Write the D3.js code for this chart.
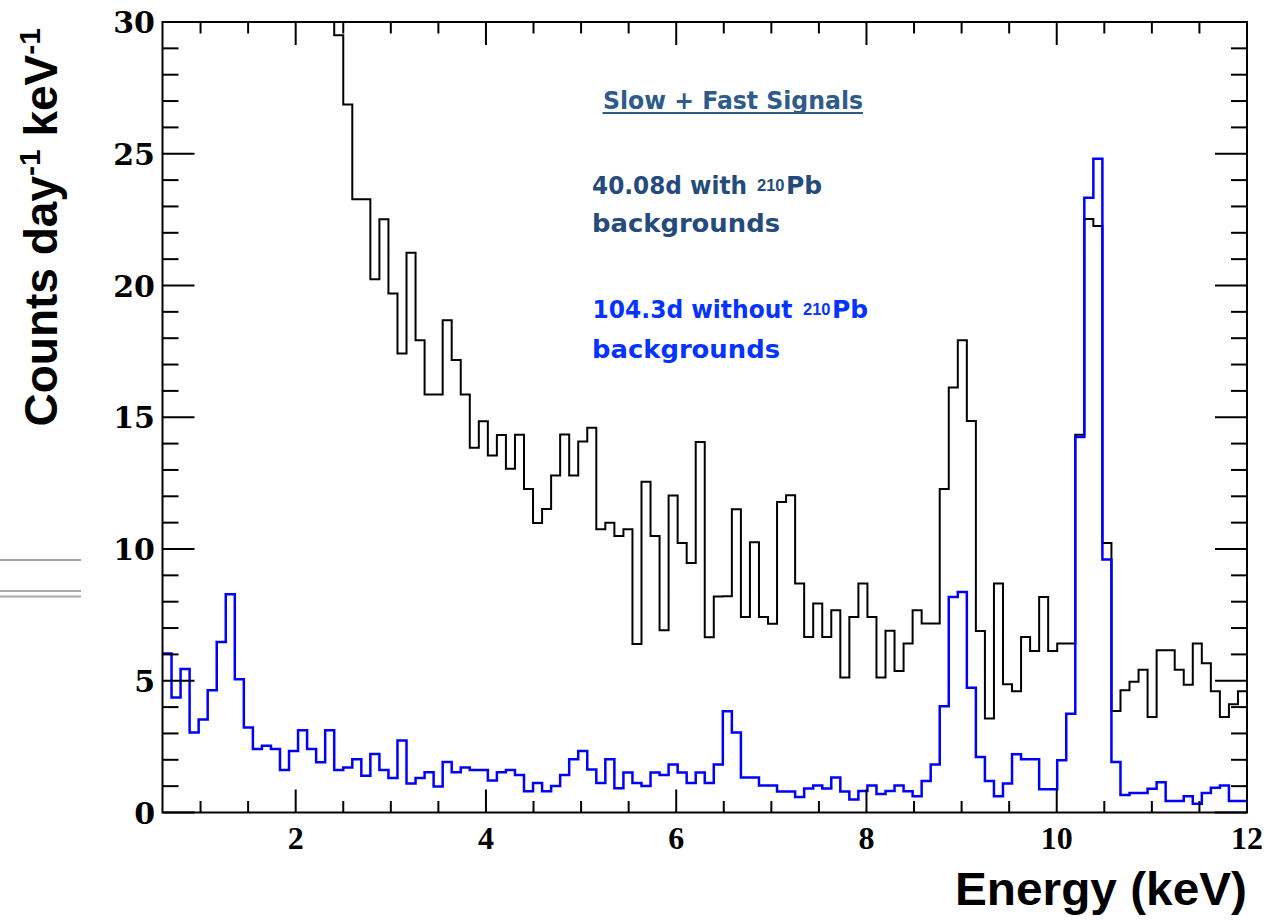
<!DOCTYPE html>
<html><head><meta charset="utf-8">
<script src="https://cdn.jsdelivr.net/npm/d3@7"></script>
<style>html,body{margin:0;padding:0;background:#fff;} svg{display:block}</style>
</head><body><svg id="c" width="1278" height="923"></svg>
<script>
// ---- data ----
const energyMin = 0.6, energyMax = 12, binWidth = 0.095; // 120 bins
// 40.08 d with 210Pb backgrounds (first bins run off the top of the frame)
const withPb = [
  95, 88, 80, 74, 69, 64, 60, 56, 52, 49, 46, 44, 42, 40, 38, 36, 35, 33, 31.5, 29.5,
  26.87, 23.27, 23.27, 20.24, 22.51, 19.7, 17.42, 21.24, 17.92, 15.86,
  15.86, 18.68, 17.17, 15.86, 13.84, 14.85, 13.55, 14.33, 13.05, 14.34,
  12.28, 10.99, 11.52, 12.79, 14.35, 12.79, 14.08, 14.6, 10.75, 11.0,
  10.49, 10.75, 6.39, 12.55, 10.49, 6.92, 12.03, 10.23, 9.47, 14.06,
  6.65, 8.2, 8.21, 11.51, 7.42, 10.26, 7.42, 7.16, 11.78, 12.04,
  8.69, 6.66, 7.93, 6.66, 7.68, 5.12, 7.42, 8.69, 7.42, 5.12,
  6.9, 5.37, 6.41, 7.68, 7.17, 7.17, 12.28, 16.13, 17.92, 14.86,
  6.89, 3.57, 8.69, 4.87, 4.6, 6.66, 6.13, 8.18, 6.13, 6.41,
  6.41, 14.34, 22.52, 22.26, 10.23, 3.85, 4.64, 4.96, 5.42, 3.62,
  6.16, 6.16, 5.42, 4.85, 6.41, 5.66, 4.6, 3.62, 4.11, 4.6
];
// 104.3 d without 210Pb backgrounds
const withoutPb = [
  6.03, 4.36, 5.45, 3.04, 3.53, 4.64, 6.47, 8.28, 5.06, 3.23,
  2.41, 2.53, 2.41, 1.61, 2.33, 3.12, 2.41, 1.91, 3.12, 1.61,
  1.71, 2.02, 1.39, 2.22, 1.61, 1.31, 2.73, 1.10, 1.31, 1.53,
  0.99, 1.92, 1.53, 1.71, 1.61, 1.61, 1.21, 1.53, 1.61, 1.42,
  0.81, 1.12, 0.81, 1.01, 1.42, 2.02, 2.33, 1.63, 1.12, 2.02,
  0.92, 1.52, 1.12, 1.01, 1.52, 1.42, 1.82, 1.52, 1.12, 1.52,
  1.12, 1.82, 3.84, 3.04, 1.33, 1.33, 1.02, 1.02, 0.80, 0.80,
  0.59, 0.91, 1.02, 0.91, 1.33, 0.80, 0.49, 0.82, 1.02, 0.70,
  0.82, 1.02, 0.81, 0.62, 1.20, 1.82, 4.03, 8.18, 8.37, 4.73,
  2.11, 1.20, 0.62, 1.10, 2.21, 2.02, 2.02, 0.88, 0.88, 1.98,
  3.75, 14.25, 23.33, 24.81, 9.60, 1.92, 0.66, 0.74, 0.74, 0.90,
  1.15, 0.44, 0.44, 0.62, 0.33, 0.74, 0.94, 1.02, 0.44, 0.44
];
const xMajorTicks = [2, 4, 6, 8, 10, 12];
const xMinorTicks = [1, 1.5, 2.5, 3, 3.5, 4.5, 5, 5.5, 6.5, 7, 7.5, 8.5, 9, 9.5, 10.5, 11, 11.5];
const yMajorTicks = [0, 5, 10, 15, 20, 25, 30];
const yMinorTicks = d3.range(0, 31).filter(v => v % 5 !== 0);

// ---- layout ----
const L = 162.5, R = 1247, T = 22, B = 812.5;
const svg = d3.select('#c');
const x = d3.scaleLinear().domain([energyMin, energyMax]).range([L, R]);
const y = d3.scaleLinear().domain([0, 30]).range([B, T]);

svg.append('defs').append('clipPath').attr('id', 'clip')
  .append('rect').attr('x', L).attr('y', T).attr('width', R - L).attr('height', B - T);

// decoration lines at left
svg.append('line').attr('x1', 0).attr('x2', 81).attr('y1', 560).attr('y2', 560).attr('stroke', '#444').attr('stroke-width', 1.2);
svg.append('line').attr('x1', 0).attr('x2', 81).attr('y1', 591).attr('y2', 591).attr('stroke', '#555').attr('stroke-width', 1.2);
svg.append('line').attr('x1', 0).attr('x2', 81).attr('y1', 596.5).attr('y2', 596.5).attr('stroke', '#aaa').attr('stroke-width', 2);

// histograms
function histPoints(vals) {
  const pts = vals.map((v, i) => [energyMin + i * binWidth, v]);
  pts.push([energyMax, vals[vals.length - 1]]);
  return pts;
}
const line = d3.line().x(d => x(d[0])).y(d => y(d[1])).curve(d3.curveStepAfter);
const g = svg.append('g').attr('clip-path', 'url(#clip)');
g.append('path').attr('d', line(histPoints(withPb))).attr('fill', 'none').attr('stroke', '#000').attr('stroke-width', 2);
g.append('path').attr('d', line(histPoints(withoutPb))).attr('fill', 'none').attr('stroke', '#0000ff').attr('stroke-width', 2.5);

// frame + ticks
const ax = svg.append('g').attr('stroke', '#000').attr('stroke-width', 2);
ax.append('rect').attr('x', L).attr('y', T).attr('width', R - L).attr('height', B - T).attr('fill', 'none');
function xt(vals, len) {
  vals.forEach(v => {
    ax.append('line').attr('x1', x(v)).attr('x2', x(v)).attr('y1', B).attr('y2', B - len);
    ax.append('line').attr('x1', x(v)).attr('x2', x(v)).attr('y1', T).attr('y2', T + len);
  });
}
function yt(vals, len) {
  vals.forEach(v => {
    ax.append('line').attr('x1', L).attr('x2', L + len).attr('y1', y(v)).attr('y2', y(v));
    ax.append('line').attr('x1', R).attr('x2', R - len).attr('y1', y(v)).attr('y2', y(v));
  });
}
xt(xMajorTicks, 23); xt(xMinorTicks, 11.5);
yt(yMajorTicks, 32); yt(yMinorTicks, 16);

// tick labels
const xTickFont = '"Liberation Serif", "Times New Roman", serif';
const yTickFont = '"DejaVu Serif", "Century Schoolbook", serif';
svg.append('g').selectAll('text').data(xMajorTicks).join('text')
  .attr('x', d => x(d)).attr('y', 849).attr('text-anchor', 'middle')
  .attr('font-family', xTickFont).attr('font-weight', 'bold').attr('font-size', 32)
  .text(d => d);
svg.append('g').selectAll('text').data(yMajorTicks).join('text')
  .attr('x', 155).attr('y', d => y(d) + 11).attr('text-anchor', 'end')
  .attr('font-family', yTickFont).attr('font-weight', 'bold').attr('font-size', 30)
  .text(d => d);

// axis titles
const titleFont = '"Liberation Sans", Arial, Helvetica, sans-serif';
svg.append('text').attr('x', 1247).attr('y', 905).attr('text-anchor', 'end')
  .attr('font-family', titleFont).attr('font-weight', 'bold').attr('font-size', 46)
  .attr('textLength', 292).attr('lengthAdjust', 'spacingAndGlyphs')
  .text('Energy (keV)');
const yt1 = svg.append('text').attr('transform', 'translate(57,28) rotate(-90)').attr('text-anchor', 'end')
  .attr('font-family', titleFont).attr('font-weight', 'bold').attr('font-size', 46);
yt1.append('tspan').text('Counts day');
yt1.append('tspan').attr('font-size', 30).attr('dy', -17).text('-1');
yt1.append('tspan').attr('dy', 17).text(' keV');
yt1.append('tspan').attr('font-size', 30).attr('dy', -17).text('-1');

// legend texts
const legFont = '"DejaVu Sans", Verdana, sans-serif';
const supFont = '"Liberation Sans", Arial, sans-serif';
svg.append('text').attr('x', 603).attr('y', 108.5)
  .attr('font-family', legFont).attr('font-weight', 'bold').attr('font-size', 24)
  .attr('fill', '#2e5b8a').attr('textLength', 260).attr('lengthAdjust', 'spacingAndGlyphs')
  .text('Slow + Fast Signals');
svg.append('line').attr('x1', 602.5).attr('x2', 863).attr('y1', 113).attr('y2', 113)
  .attr('stroke', '#2e5b8a').attr('stroke-width', 2);

function seg(y0, color, x0, size, txt, len, fam) {
  const t = svg.append('text').attr('x', x0).attr('y', y0)
    .attr('font-family', fam || legFont).attr('font-weight', 'bold').attr('font-size', size)
    .attr('fill', color).text(txt);
  if (len) t.attr('textLength', len).attr('lengthAdjust', 'spacingAndGlyphs');
}
// "40.08d with 210Pb / backgrounds"
seg(193.5, '#254b7c', 592, 24, '40.08d with', 155);
seg(190.5, '#254b7c', 757, 16.5, '210', null, supFont);
seg(193.5, '#254b7c', 786, 25, 'Pb');
seg(232, '#254b7c', 592, 24, 'backgrounds', 188);
// "104.3d without 210Pb / backgrounds"
seg(317.5, '#0533ff', 592.5, 24, '104.3d without', 200);
seg(314.5, '#0533ff', 803, 16.5, '210', null, supFont);
seg(317.5, '#0533ff', 832, 25, 'Pb');
seg(358, '#0533ff', 592, 24, 'backgrounds', 188);
</script></body></html>
